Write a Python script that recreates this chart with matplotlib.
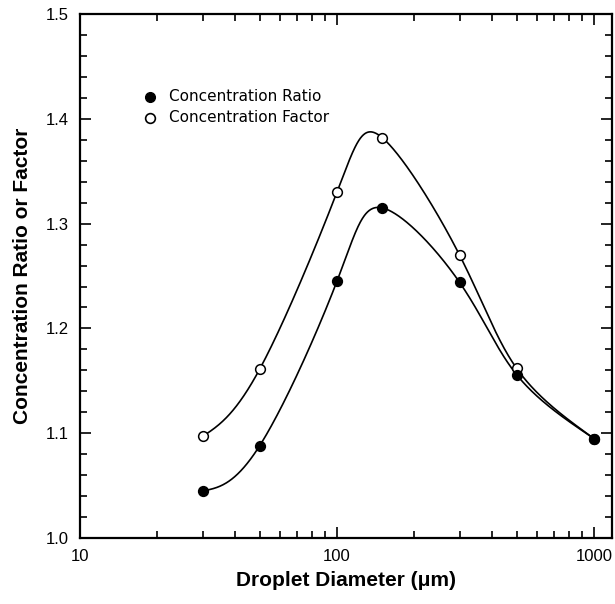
import numpy as np
import matplotlib
matplotlib.use('Agg')
import matplotlib.pyplot as plt
from matplotlib.ticker import FixedLocator, NullFormatter

diam = [30, 50, 100, 150, 300, 500, 1000]
ratio = [1.045, 1.088, 1.245, 1.315, 1.244, 1.156, 1.095]
factor = [1.097, 1.161, 1.330, 1.382, 1.270, 1.162, 1.095]


def natural_spline(t, y, ts):
    # natural cubic spline through (t, y), evaluated at ts
    t = np.asarray(t, float)
    y = np.asarray(y, float)
    n = len(t)
    h = np.diff(t)
    A = np.zeros((n, n))
    b = np.zeros(n)
    A[0, 0] = 1
    A[-1, -1] = 1
    for i in range(1, n - 1):
        A[i, i - 1] = h[i - 1]
        A[i, i] = 2 * (h[i - 1] + h[i])
        A[i, i + 1] = h[i]
        b[i] = 3 * ((y[i + 1] - y[i]) / h[i] - (y[i] - y[i - 1]) / h[i - 1])
    c = np.linalg.solve(A, b)
    out = np.empty_like(ts)
    for k, tv in enumerate(ts):
        i = min(max(np.searchsorted(t, tv) - 1, 0), n - 2)
        d = tv - t[i]
        bi = (y[i + 1] - y[i]) / h[i] - h[i] * (2 * c[i] + c[i + 1]) / 3
        di = (c[i + 1] - c[i]) / (3 * h[i])
        out[k] = y[i] + bi * d + c[i] * d ** 2 + di * d ** 3
    return out


def smooth_curve(x, y):
    # parametric spline (uniform parameter) in screen-like space: log x, scaled y
    u = np.log10(x) * 256.0
    v = np.asarray(y) * 1050.0
    t = np.arange(len(u), dtype=float)
    ts = np.linspace(0, t[-1], 600)
    return 10 ** (natural_spline(t, u, ts) / 256.0), natural_spline(t, v, ts) / 1050.0


fig = plt.figure(figsize=(6.15, 6.04), dpi=100)
ax = fig.add_axes([0.130, 0.109, 0.865, 0.868])

ax.plot(*smooth_curve(diam, ratio), color='black', lw=1.2)
ax.plot(*smooth_curve(diam, factor), color='black', lw=1.2)
ax.plot(diam, factor, 'o', ms=7, mfc='white', mec='black', mew=1.1)
ax.plot(diam, ratio, 'o', ms=7, mfc='black', mec='black', mew=1.1)

ax.set_xscale('log')
ax.set_xlim(10, 1175)
ax.set_ylim(1.0, 1.5)
ax.xaxis.set_major_locator(FixedLocator([10, 100, 1000]))
ax.set_xticklabels(['10', '100', '1000'])
minors = [m * 10 ** e for e in (1, 2) for m in range(2, 10)]
ax.xaxis.set_minor_locator(FixedLocator(minors))
ax.xaxis.set_minor_formatter(NullFormatter())
ax.set_yticks(np.arange(1.0, 1.51, 0.1))
ax.set_yticklabels(['1.0', '1.1', '1.2', '1.3', '1.4', '1.5'])
ax.set_yticks(np.arange(1.0, 1.5, 0.02), minor=True)

ax.tick_params(which='both', direction='in', top=True, right=True, width=1.2,
               labelsize=12, pad=8)
ax.tick_params(which='major', length=8)
ax.tick_params(which='minor', length=5)
for s in ax.spines.values():
    s.set_linewidth(1.6)

ax.set_xlabel('Droplet Diameter (\u03bcm)', fontsize=15, fontweight='bold',
              family='Liberation Sans', labelpad=5)
ax.set_ylabel('Concentration Ratio or Factor', fontsize=15, fontweight='bold',
              family='Liberation Sans', labelpad=10)
for t in ax.get_xticklabels() + ax.get_yticklabels():
    t.set_family('Liberation Sans')

# legend drawn by hand in axes coordinates
ax.plot([0.132], [0.842], 'o', ms=7, mfc='black', mec='black', transform=ax.transAxes)
ax.plot([0.132], [0.802], 'o', ms=7, mfc='white', mec='black', mew=1.2, transform=ax.transAxes)
ax.text(0.167, 0.842, 'Concentration Ratio', transform=ax.transAxes, va='center', fontsize=11)
ax.text(0.167, 0.802, 'Concentration Factor', transform=ax.transAxes, va='center', fontsize=11)

fig.savefig('out.png', dpi=100)
